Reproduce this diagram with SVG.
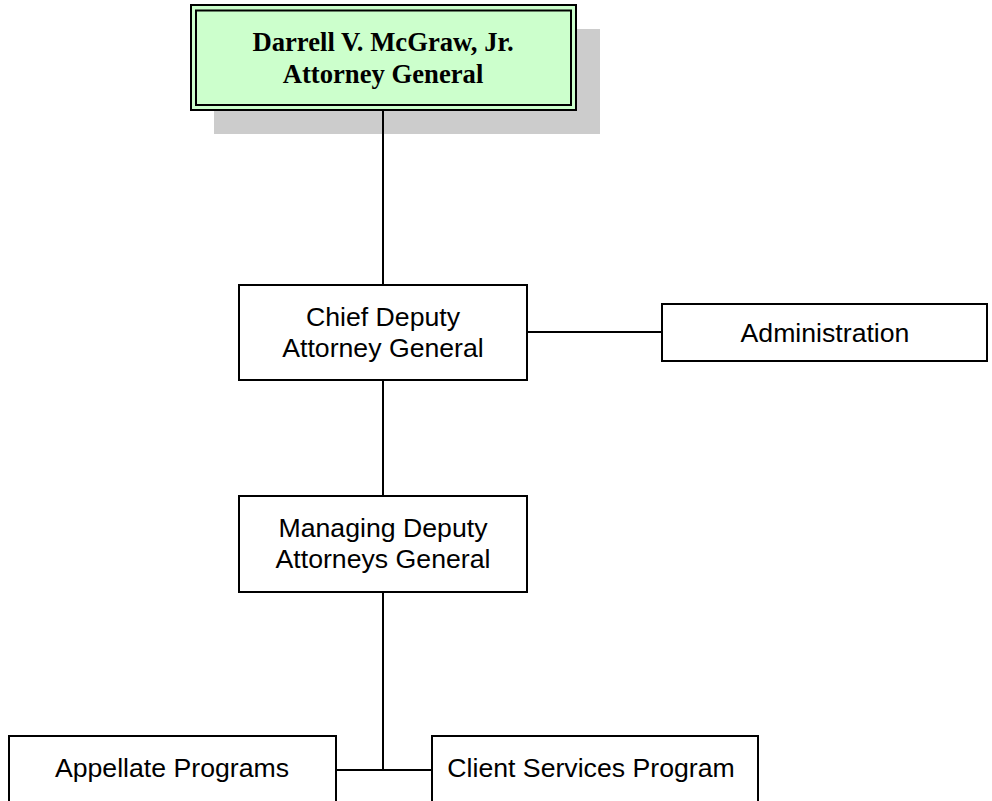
<svg xmlns="http://www.w3.org/2000/svg" width="992" height="801" viewBox="0 0 992 801">
  <style>
    .box { fill: #ffffff; stroke: #000000; stroke-width: 2; }
    .conn { stroke: #000000; stroke-width: 2; fill: none; }
    .lbl { font-family: "Liberation Sans", Arial, sans-serif; font-size: 26.67px; fill: #000000; text-anchor: middle; }
    .top { font-family: "Liberation Serif", "Times New Roman", serif; font-size: 26.67px; font-weight: bold; fill: #000000; text-anchor: middle; }
  </style>
  <rect width="992" height="801" fill="#ffffff"/>

  <g id="n-ag">
    <rect x="214" y="29" width="386" height="105" fill="#cccccc"/>
    <rect x="191" y="5" width="385" height="105" fill="#ccffcc" stroke="#000000" stroke-width="2"/>
    <rect x="196" y="10.5" width="375" height="94.5" fill="none" stroke="#000000" stroke-width="2"/>
    <text class="top" x="383" y="51">Darrell V. McGraw, Jr.</text>
    <text class="top" x="383" y="83">Attorney General</text>
  </g>

  <g id="connectors">
    <line class="conn" x1="383" y1="110" x2="383" y2="285"/>
    <line class="conn" x1="527" y1="332" x2="662" y2="332"/>
    <line class="conn" x1="383" y1="380" x2="383" y2="496"/>
    <line class="conn" x1="383" y1="592" x2="383" y2="770"/>
    <line class="conn" x1="336" y1="770" x2="432" y2="770"/>
  </g>

  <g id="n-chief">
    <rect class="box" x="239" y="285" width="288" height="95"/>
    <text class="lbl" x="383" y="326">Chief Deputy</text>
    <text class="lbl" x="383" y="357">Attorney General</text>
  </g>

  <g id="n-admin">
    <rect class="box" x="662" y="304" width="325" height="57"/>
    <text class="lbl" x="825" y="342">Administration</text>
  </g>

  <g id="n-managing">
    <rect class="box" x="239" y="496" width="288" height="96"/>
    <text class="lbl" x="383" y="537">Managing Deputy</text>
    <text class="lbl" x="383" y="568">Attorneys General</text>
  </g>

  <g id="n-appellate">
    <rect class="box" x="9" y="736" width="327" height="80"/>
    <text class="lbl" x="172" y="777">Appellate Programs</text>
  </g>

  <g id="n-client">
    <rect class="box" x="432" y="736" width="326" height="80"/>
    <text class="lbl" x="591" y="777">Client Services Program</text>
  </g>
</svg>
